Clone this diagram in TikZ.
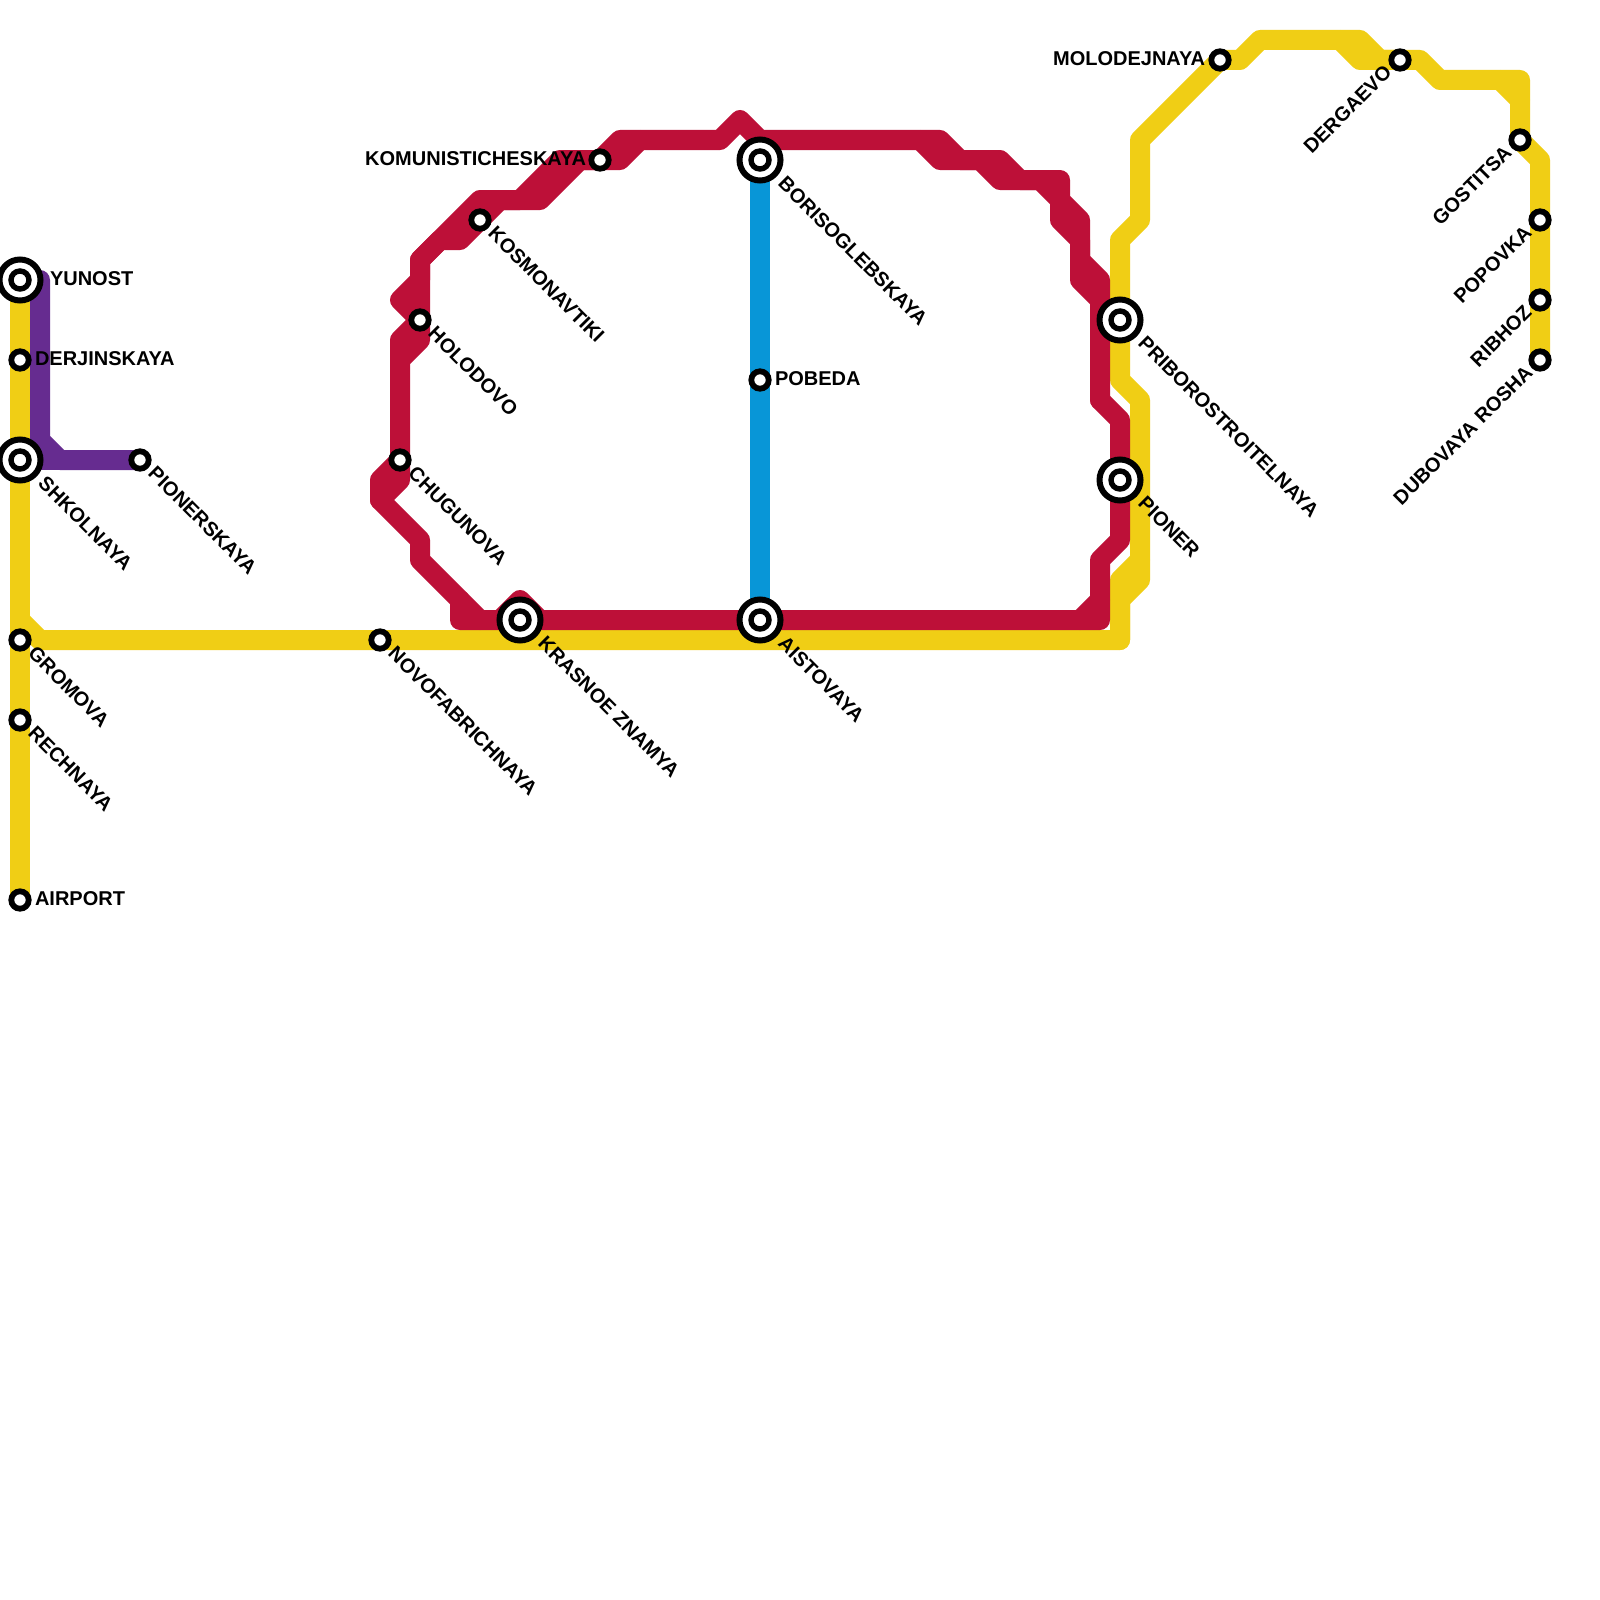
\documentclass[tikz,border=0pt]{standalone}
\usepackage{fontspec}
\setmainfont{Liberation Sans}
\usetikzlibrary{backgrounds}
\definecolor{ylw}{HTML}{F0CE15}
\definecolor{rd}{HTML}{BD1038}
\definecolor{prp}{HTML}{662C90}
\definecolor{blu}{HTML}{0896D7}
\tikzset{
  x=1pt,y=-1pt,
  metro/.style={line width=20pt,line join=round,line cap=round},
  sta/.style={circle,draw=black,fill=white,line width=5.8pt,minimum size=17.4pt,inner sep=0pt,outer sep=0pt},
  hub/.style={circle,draw=black,fill=white,line width=6pt,minimum size=41pt,inner sep=0pt,outer sep=0pt},
  hubin/.style={circle,draw=black,fill=white,line width=5.4pt,minimum size=18pt,inner sep=0pt,outer sep=0pt},
  lab/.style={font=\fontsize{20}{22}\selectfont\bfseries,text=black,inner sep=0pt,outer sep=0pt},
  labr/.style={lab,anchor=west},
  labl/.style={lab,anchor=east},
  labd/.style={lab,anchor=west,rotate=-45},
  labu/.style={lab,anchor=east,rotate=45},
}
\begin{document}
\begin{tikzpicture}
\useasboundingbox (0,0) rectangle (1600,1600);
% stations
\node[hub] (yunost) at (20,280) {}; \node[hubin] (yunostc) at (20,280) {};
\node[sta] (derj) at (20,360) {};
\node[hub] (shkol) at (20,460) {}; \node[hubin] (shkolc) at (20,460) {};
\node[sta] (pioners) at (140,460) {};
\node[sta] (gromova) at (20,640) {};
\node[sta] (rechn) at (20,720) {};
\node[sta] (airport) at (20,900) {};
\node[sta] (novofab) at (380,640) {};
\node[sta] (chugun) at (400,460) {};
\node[sta] (holod) at (420,320) {};
\node[sta] (kosmo) at (480,220) {};
\node[sta] (komun) at (600,160) {};
\node[hub] (boris) at (760,160) {}; \node[hubin] (borisc) at (760,160) {};
\node[sta] (pobeda) at (760,380) {};
\node[hub] (aist) at (760,620) {}; \node[hubin] (aistc) at (760,620) {};
\node[hub] (krasn) at (520,620) {}; \node[hubin] (krasnc) at (520,620) {};
\node[hub] (pribor) at (1120,320) {}; \node[hubin] (priborc) at (1120,320) {};
\node[hub] (pioner) at (1120,480) {}; \node[hubin] (pionerc) at (1120,480) {};
\node[sta] (molod) at (1220,60) {};
\node[sta] (derga) at (1400,60) {};
\node[sta] (gost) at (1520,140) {};
\node[sta] (popov) at (1540,220) {};
\node[sta] (ribh) at (1540,300) {};
\node[sta] (dubov) at (1540,360) {};
% labels
\node[labr] (tyunost) at (50,279) {YUNOST};
\node[labr] (tderj) at (35,359) {DERJINSKAYA};
\node[labr] (tairport) at (35,899) {AIRPORT};
\node[labr] (tpobeda) at (775,379) {POBEDA};
\node[labl] (tmolod) at (1205,59) {MOLODEJNAYA};
\node[labl] (tkomun) at (586,159) {KOMUNISTICHESKAYA};
\node[labd] (tshkol) at (42,480) {SHKOLNAYA};
\node[labd] (tpioners) at (152,470) {PIONERSKAYA};
\node[labd] (tgromova) at (32,650) {GROMOVA};
\node[labd] (trechn) at (32,730) {RECHNAYA};
\node[labd] (tnovofab) at (392,650) {NOVOFABRICHNAYA};
\node[labd] (tchugun) at (412,470) {CHUGUNOVA};
\node[labd] (tholod) at (432,330) {HOLODOVO};
\node[labd] (tkosmo) at (492,230) {KOSMONAVTIKI};
\node[labd] (tboris) at (782,180) {BORISOGLEBSKAYA};
\node[labd] (taist) at (782,640) {AISTOVAYA};
\node[labd] (tkrasn) at (542,640) {KRASNOE ZNAMYA};
\node[labd] (tpribor) at (1142,340) {PRIBOROSTROITELNAYA};
\node[labd] (tpioner) at (1142,500) {PIONER};
\node[labu] (tderga) at (1388,69) {DERGAEVO};
\node[labu] (tgost) at (1508,149) {GOSTITSA};
\node[labu] (tpopov) at (1528,229) {POPOVKA};
\node[labu] (tribh) at (1528,309) {RIBHOZ};
\node[labu] (tdubov) at (1529,369) {DUBOVAYA ROSHA};
% lines
\begin{scope}[on background layer]
\fill[white] (0,0) rectangle (1600,1600);
% yellow
\draw[metro,ylw] (yunost.center) -- (derj.center) -- (shkol.center) -- (gromova.center) -- (rechn.center) -- (airport.center);
\draw[metro,ylw] (20,620) -- (40,640) -- (novofab.center) -- (1120,640) -- (1120,600) -- (1140,580) -- (1140,400) -- (1120,380) -- (pribor.center) -- (1120,240) -- (1140,220) -- (1140,140) -- (molod.center) -- (1240,60) -- (1260,40) -- (1360,40) -- (1380,60) -- (derga.center) -- (1420,60) -- (1440,80) -- (1520,80) -- (gost.center) -- (1540,160) -- (popov.center) -- (ribh.center) -- (dubov.center);
\draw[metro,ylw] (1120,640) -- (1120,580) -- (1140,560);
\draw[metro,ylw] (1340,40) -- (1360,60) -- (derga.center);
\draw[metro,ylw] (1500,80) -- (1520,100);
% blue
\draw[metro,blu,line cap=butt] (boris.center) -- (pobeda.center) -- (aist.center);
% purple
\draw[metro,prp] (40,280) -- (40,440) -- (60,460) -- (pioners.center);
\draw[metro,prp] (40,440) -- (40,460) -- (60,460);
% red
\draw[metro,rd] (1100,400) -- (1120,420) -- (pioner.center) -- (1120,540) -- (1100,560) -- (1100,620) -- (aist.center) -- (krasn.center) -- (460,620) -- (460,600);
\draw[metro,rd] (480,620) -- (420,560) -- (420,540) -- (380,500) -- (380,480) -- (chugun.center) -- (400,340) -- (holod.center) -- (420,340) -- (400,360);
\draw[metro,rd] (chugun.center) -- (400,480) -- (380,500);
\draw[metro,rd] (500,620) -- (520,600) -- (540,620);
\draw[metro,rd] (1100,600) -- (1080,620);
\draw[metro,rd] (holod.center) -- (400,300) -- (420,280) -- (420,260) -- (480,200) -- (520,200) -- (560,160) -- (komun.center) -- (620,140) -- (720,140) -- (740,120) -- (760,140) -- (940,140) -- (960,160) -- (1000,160) -- (1020,180) -- (1060,180) -- (1060,200) -- (1080,220) -- (1080,260) -- (1100,280) -- (1100,400);
\draw[metro,rd] (holod.center) -- (420,260) -- (440,240) -- (460,240) -- (500,200) -- (540,200) -- (580,160) -- (620,160) -- (640,140);
\draw[metro,rd] (920,140) -- (940,160) -- (980,160) -- (1000,180) -- (1040,180) -- (1060,200) -- (1060,220) -- (1080,240) -- (1080,280) -- (1100,300);
\end{scope}
\end{tikzpicture}
\end{document}
